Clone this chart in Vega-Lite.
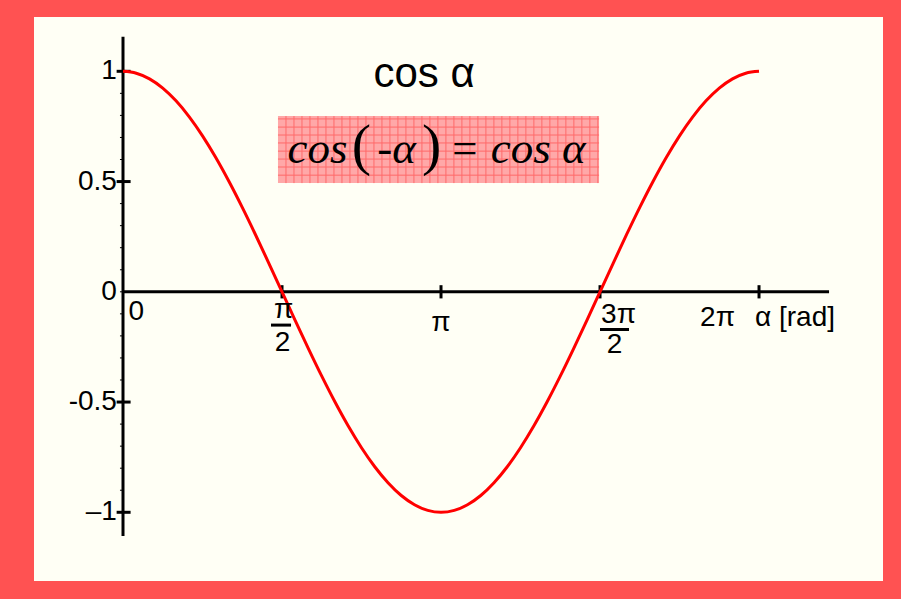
{
  "$schema": "https://vega.github.io/schema/vega-lite/v6.json",
  "width": 849,
  "height": 564,
  "autosize": {"type": "none"},
  "padding": {"left": 34, "top": 17, "right": 18, "bottom": 18},
  "background": "#ff5252",
  "config": {
    "view": {"stroke": null, "fill": "#fffff5"},
    "axis": {"disable": true}
  },
  "datasets": {
    "curve": [
      {"a": 0, "c": 1}, {"a": 0.1309, "c": 0.9914}, {"a": 0.2618, "c": 0.9659}, {"a": 0.3927, "c": 0.9239},
      {"a": 0.5236, "c": 0.866}, {"a": 0.6545, "c": 0.7934}, {"a": 0.7854, "c": 0.7071}, {"a": 0.9163, "c": 0.6088},
      {"a": 1.0472, "c": 0.5}, {"a": 1.1781, "c": 0.3827}, {"a": 1.309, "c": 0.2588}, {"a": 1.4399, "c": 0.1305},
      {"a": 1.5708, "c": 0}, {"a": 1.7017, "c": -0.1305}, {"a": 1.8326, "c": -0.2588}, {"a": 1.9635, "c": -0.3827},
      {"a": 2.0944, "c": -0.5}, {"a": 2.2253, "c": -0.6088}, {"a": 2.3562, "c": -0.7071}, {"a": 2.4871, "c": -0.7934},
      {"a": 2.618, "c": -0.866}, {"a": 2.7489, "c": -0.9239}, {"a": 2.8798, "c": -0.9659}, {"a": 3.0107, "c": -0.9914},
      {"a": 3.1416, "c": -1}, {"a": 3.2725, "c": -0.9914}, {"a": 3.4034, "c": -0.9659}, {"a": 3.5343, "c": -0.9239},
      {"a": 3.6652, "c": -0.866}, {"a": 3.7961, "c": -0.7934}, {"a": 3.927, "c": -0.7071}, {"a": 4.0579, "c": -0.6088},
      {"a": 4.1888, "c": -0.5}, {"a": 4.3197, "c": -0.3827}, {"a": 4.4506, "c": -0.2588}, {"a": 4.5815, "c": -0.1305},
      {"a": 4.7124, "c": 0}, {"a": 4.8433, "c": 0.1305}, {"a": 4.9742, "c": 0.2588}, {"a": 5.1051, "c": 0.3827},
      {"a": 5.236, "c": 0.5}, {"a": 5.3669, "c": 0.6088}, {"a": 5.4978, "c": 0.7071}, {"a": 5.6287, "c": 0.7934},
      {"a": 5.7596, "c": 0.866}, {"a": 5.8905, "c": 0.9239}, {"a": 6.0214, "c": 0.9659}, {"a": 6.1523, "c": 0.9914},
      {"a": 6.2832, "c": 1}
    ],
    "axes": [
      {"x": 0, "x2": 6.975, "y": 0, "y2": 0},
      {"x": 0, "x2": 0, "y": -1.107, "y2": 1.157}
    ],
    "majorY": [{"v": 1}, {"v": 0.5}, {"v": -0.5}, {"v": -1}],
    "majorX": [{"a": 1.5708}, {"a": 3.1416}, {"a": 4.7124}, {"a": 6.2832}],
    "minorY": [
      {"v": 0.9}, {"v": 0.8}, {"v": 0.7}, {"v": 0.6}, {"v": 0.4}, {"v": 0.3}, {"v": 0.2}, {"v": 0.1}, {"v": 0},
      {"v": -0.1}, {"v": -0.2}, {"v": -0.3}, {"v": -0.4}, {"v": -0.6}, {"v": -0.7}, {"v": -0.8}, {"v": -0.9}
    ],
    "ylabels": [
      {"v": 1, "t": "1"}, {"v": 0.5, "t": "0.5"}, {"v": 0, "t": "0"}, {"v": -0.5, "t": "-0.5"}, {"v": -1, "t": "–1"}
    ],
    "xlabelsCenter": [
      {"x": 3.1416, "y": -0.178, "t": "π"},
      {"x": 1.586, "y": -0.119, "t": "π"},
      {"x": 1.576, "y": -0.268, "t": "2"},
      {"x": 4.895, "y": -0.141, "t": "3π"},
      {"x": 4.856, "y": -0.278, "t": "2"}
    ],
    "xlabelsLeft": [
      {"x": 0.055, "y": -0.128, "t": "0"},
      {"x": 6.244, "y": -0.155, "t": "α [rad]"}
    ],
    "xlabelsRight": [
      {"x": 6.046, "y": -0.155, "t": "2π"}
    ],
    "fracBars": [
      {"x": 1.462, "x2": 1.66, "y": -0.151},
      {"x": 4.712, "x2": 4.999, "y": -0.171}
    ],
    "box": [{"x": 1.531, "x2": 4.703, "y": 0.493, "y2": 0.797}],
    "vgrid": [
      {"g": 1.61}, {"g": 1.689}, {"g": 1.768}, {"g": 1.847}, {"g": 1.926}, {"g": 2.005}, {"g": 2.084}, {"g": 2.163},
      {"g": 2.242}, {"g": 2.321}, {"g": 2.4}, {"g": 2.479}, {"g": 2.558}, {"g": 2.637}, {"g": 2.716}, {"g": 2.795},
      {"g": 2.874}, {"g": 2.953}, {"g": 3.032}, {"g": 3.111}, {"g": 3.19}, {"g": 3.269}, {"g": 3.348}, {"g": 3.427},
      {"g": 3.506}, {"g": 3.585}, {"g": 3.664}, {"g": 3.743}, {"g": 3.822}, {"g": 3.901}, {"g": 3.98}, {"g": 4.059},
      {"g": 4.138}, {"g": 4.217}, {"g": 4.296}, {"g": 4.375}, {"g": 4.454}, {"g": 4.533}, {"g": 4.612}, {"g": 4.691}
    ],
    "hgrid": [
      {"g": 0.529}, {"g": 0.566}, {"g": 0.602}, {"g": 0.638}, {"g": 0.675}, {"g": 0.711}, {"g": 0.747}, {"g": 0.784}
    ],
    "formulaItalic": [
      {"x": 1.922, "y": 0.584, "t": "cos"},
      {"x": 2.702, "y": 0.584, "t": "-α"},
      {"x": 3.897, "y": 0.584, "t": "= cos α"}
    ],
    "formulaParens": [
      {"x": 2.356, "y": 0.578, "t": "("},
      {"x": 3.048, "y": 0.578, "t": ")"}
    ],
    "title": [{"x": 2.974, "y": 0.929, "t": "cos α"}]
  },
  "layer": [
    {
      "data": {"name": "box"},
      "mark": {"type": "rect", "fill": "#ffa8a8", "stroke": null},
      "encoding": {
        "x": {"field": "x", "type": "quantitative", "scale": {"domain": [-0.8793, 7.508], "nice": false, "zero": false}},
        "x2": {"field": "x2"},
        "y": {"field": "y", "type": "quantitative", "scale": {"domain": [-1.3116, 1.2463], "nice": false, "zero": false}},
        "y2": {"field": "y2"}
      }
    },
    {
      "data": {"name": "vgrid"},
      "mark": {"type": "rule", "color": "#ff6a6a", "strokeWidth": 1},
      "encoding": {
        "x": {"field": "g", "type": "quantitative"},
        "y": {"datum": 0.493, "type": "quantitative"},
        "y2": {"datum": 0.797}
      }
    },
    {
      "data": {"name": "hgrid"},
      "mark": {"type": "rule", "color": "#ff6a6a", "strokeWidth": 1},
      "encoding": {
        "x": {"datum": 1.531, "type": "quantitative"},
        "x2": {"datum": 4.703},
        "y": {"field": "g", "type": "quantitative"}
      }
    },
    {
      "data": {"name": "formulaItalic"},
      "mark": {"type": "text", "font": "Liberation Serif", "fontStyle": "italic", "fontSize": 45, "align": "center", "baseline": "alphabetic", "color": "#000000"},
      "encoding": {
        "x": {"field": "x", "type": "quantitative"},
        "y": {"field": "y", "type": "quantitative"},
        "text": {"field": "t"}
      }
    },
    {
      "data": {"name": "formulaParens"},
      "mark": {"type": "text", "font": "Liberation Serif", "fontSize": 58, "align": "center", "baseline": "alphabetic", "color": "#000000"},
      "encoding": {
        "x": {"field": "x", "type": "quantitative"},
        "y": {"field": "y", "type": "quantitative"},
        "text": {"field": "t"}
      }
    },
    {
      "data": {"name": "title"},
      "mark": {"type": "text", "font": "Liberation Sans", "fontSize": 42, "letterSpacing": -1, "align": "center", "baseline": "alphabetic", "color": "#000000"},
      "encoding": {
        "x": {"field": "x", "type": "quantitative"},
        "y": {"field": "y", "type": "quantitative"},
        "text": {"field": "t"}
      }
    },
    {
      "data": {"name": "axes"},
      "mark": {"type": "rule", "color": "#000000", "strokeWidth": 3},
      "encoding": {
        "x": {"field": "x", "type": "quantitative"},
        "x2": {"field": "x2"},
        "y": {"field": "y", "type": "quantitative"},
        "y2": {"field": "y2"}
      }
    },
    {
      "data": {"name": "majorY"},
      "mark": {"type": "rule", "color": "#000000", "strokeWidth": 3},
      "encoding": {
        "x": {"datum": -0.063, "type": "quantitative"},
        "x2": {"datum": 0.075},
        "y": {"field": "v", "type": "quantitative"}
      }
    },
    {
      "data": {"name": "majorX"},
      "mark": {"type": "rule", "color": "#000000", "strokeWidth": 3},
      "encoding": {
        "x": {"field": "a", "type": "quantitative"},
        "y": {"datum": -0.03, "type": "quantitative"},
        "y2": {"datum": 0.03}
      }
    },
    {
      "data": {"name": "minorY"},
      "mark": {"type": "rule", "color": "#000000", "strokeWidth": 1},
      "encoding": {
        "x": {"datum": -0.03, "type": "quantitative"},
        "x2": {"datum": 0},
        "y": {"field": "v", "type": "quantitative"}
      }
    },
    {
      "data": {"name": "fracBars"},
      "mark": {"type": "rule", "color": "#000000", "strokeWidth": 3},
      "encoding": {
        "x": {"field": "x", "type": "quantitative"},
        "x2": {"field": "x2"},
        "y": {"field": "y", "type": "quantitative"}
      }
    },
    {
      "data": {"name": "curve"},
      "mark": {"type": "line", "color": "#ff0000", "strokeWidth": 3, "interpolate": "monotone"},
      "encoding": {
        "x": {"field": "a", "type": "quantitative"},
        "y": {"field": "c", "type": "quantitative"}
      }
    },
    {
      "data": {"name": "ylabels"},
      "mark": {"type": "text", "font": "Liberation Sans", "fontSize": 28, "align": "right", "baseline": "middle", "color": "#000000"},
      "encoding": {
        "x": {"datum": -0.06, "type": "quantitative"},
        "y": {"field": "v", "type": "quantitative"},
        "text": {"field": "t"}
      }
    },
    {
      "data": {"name": "xlabelsCenter"},
      "mark": {"type": "text", "font": "Liberation Sans", "fontSize": 28, "align": "center", "baseline": "alphabetic", "color": "#000000"},
      "encoding": {
        "x": {"field": "x", "type": "quantitative"},
        "y": {"field": "y", "type": "quantitative"},
        "text": {"field": "t"}
      }
    },
    {
      "data": {"name": "xlabelsLeft"},
      "mark": {"type": "text", "font": "Liberation Sans", "fontSize": 28, "align": "left", "baseline": "alphabetic", "color": "#000000"},
      "encoding": {
        "x": {"field": "x", "type": "quantitative"},
        "y": {"field": "y", "type": "quantitative"},
        "text": {"field": "t"}
      }
    },
    {
      "data": {"name": "xlabelsRight"},
      "mark": {"type": "text", "font": "Liberation Sans", "fontSize": 28, "align": "right", "baseline": "alphabetic", "color": "#000000"},
      "encoding": {
        "x": {"field": "x", "type": "quantitative"},
        "y": {"field": "y", "type": "quantitative"},
        "text": {"field": "t"}
      }
    }
  ]
}
